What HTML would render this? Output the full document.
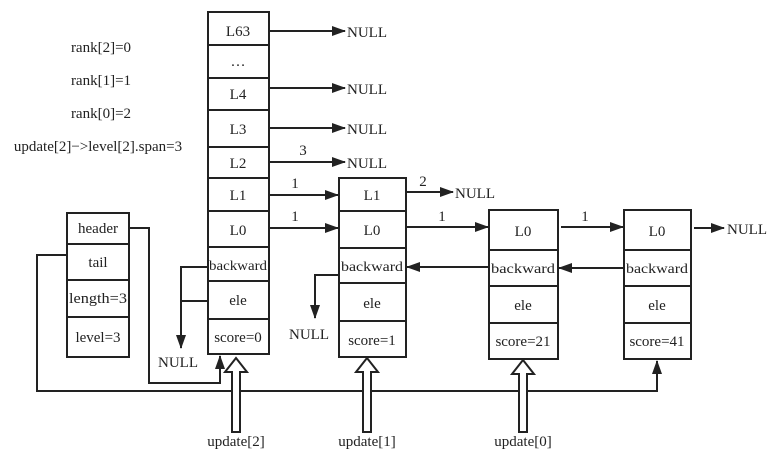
<!DOCTYPE html>
<html><head><meta charset="utf-8"><style>
html,body{margin:0;padding:0;background:#fff;}
svg{display:block;}
text{font-family:"Liberation Serif",serif;font-size:15px;fill:#222;}
</style></head><body>
<svg width="779" height="465" viewBox="0 0 779 465" xmlns="http://www.w3.org/2000/svg">
<defs>
<marker id="a" markerWidth="14" markerHeight="10" refX="13" refY="5" orient="auto" markerUnits="userSpaceOnUse">
<path d="M0,0 L14,5 L0,10 Z" fill="#222"/></marker>
</defs>
<g stroke="#222" stroke-width="2" fill="none">
<!-- main column -->
<rect x="208" y="12" width="61" height="342"/>
<path d="M208,45H269M208,78H269M208,110H269M208,147H269M208,178H269M208,211H269M208,247H269M208,281H269M208,319H269"/>
<!-- node1 -->
<rect x="339" y="178" width="67" height="179"/>
<path d="M339,211H406M339,248H406M339,283H406M339,321H406"/>
<!-- node2 -->
<rect x="489" y="210" width="69" height="149"/>
<path d="M489,250H558M489,286H558M489,323H558"/>
<!-- node3 -->
<rect x="624" y="210" width="67" height="149"/>
<path d="M624,250H691M624,286H691M624,323H691"/>
<!-- header box -->
<rect x="67" y="213" width="62" height="144"/>
<path d="M67,244H129M67,280H129M67,317H129"/>
</g>
<g stroke="#222" stroke-width="2" fill="none">
<line x1="269" y1="31" x2="345" y2="31" marker-end="url(#a)"/>
<line x1="269" y1="88" x2="345" y2="88" marker-end="url(#a)"/>
<line x1="269" y1="128" x2="345" y2="128" marker-end="url(#a)"/>
<line x1="269" y1="162" x2="345" y2="162" marker-end="url(#a)"/>
<line x1="269" y1="195" x2="338" y2="195" marker-end="url(#a)"/>
<line x1="269" y1="228" x2="338" y2="228" marker-end="url(#a)"/>
<line x1="406" y1="192" x2="453" y2="192" marker-end="url(#a)"/>
<line x1="406" y1="227" x2="488" y2="227" marker-end="url(#a)"/>
<line x1="561" y1="227" x2="623" y2="227" marker-end="url(#a)"/>
<line x1="694" y1="228" x2="724" y2="228" marker-end="url(#a)"/>
<line x1="489" y1="267" x2="407" y2="267" marker-end="url(#a)"/>
<line x1="624" y1="268" x2="559" y2="268" marker-end="url(#a)"/>
<polyline points="208,267 181,267 181,348" marker-end="url(#a)"/>
<line x1="181" y1="301" x2="208" y2="301"/>
<polyline points="339,275 315,275 315,318" marker-end="url(#a)"/>
<polyline points="129,228 149,228 149,383 220,383 220,356" marker-end="url(#a)"/>
<polyline points="67,255 37,255 37,391 657,391 657,361" marker-end="url(#a)"/>
</g>
<g stroke="#222" stroke-width="2" fill="#fff">
<path d="M232,432 V372 H225 L236,358 L247,372 H240 V432 Z"/>
<path d="M363,432 V372 H356 L367,358 L378,372 H371 V432 Z"/>
<path d="M519,432 V374 H512 L523,360 L534,374 H527 V432 Z"/>
</g>
<g text-anchor="middle">
<text x="238" y="36">L63</text>
<text x="238" y="66">…</text>
<text x="238" y="99">L4</text>
<text x="238" y="134">L3</text>
<text x="238" y="168">L2</text>
<text x="238" y="200">L1</text>
<text x="238" y="235">L0</text>
<text x="238" y="270" style="font-size:14px" textLength="58" lengthAdjust="spacingAndGlyphs">backward</text>
<text x="238" y="305">ele</text>
<text x="238" y="342">score=0</text>
<text x="372" y="200">L1</text>
<text x="372" y="235">L0</text>
<text x="372" y="271" style="font-size:14px" textLength="62" lengthAdjust="spacingAndGlyphs">backward</text>
<text x="372" y="308">ele</text>
<text x="372" y="345">score=1</text>
<text x="523" y="236">L0</text>
<text x="523" y="273" style="font-size:14px" textLength="64" lengthAdjust="spacingAndGlyphs">backward</text>
<text x="523" y="310">ele</text>
<text x="523" y="346">score=21</text>
<text x="657" y="236">L0</text>
<text x="657" y="273" style="font-size:14px" textLength="62" lengthAdjust="spacingAndGlyphs">backward</text>
<text x="657" y="310">ele</text>
<text x="657" y="346">score=41</text>
<text x="98" y="233">header</text>
<text x="98" y="267">tail</text>
<text x="98" y="303" textLength="58" lengthAdjust="spacingAndGlyphs">length=3</text>
<text x="98" y="342">level=3</text>
<text x="236" y="446">update[2]</text>
<text x="367" y="446">update[1]</text>
<text x="523" y="446">update[0]</text>
<text x="101" y="52">rank[2]=0</text>
<text x="101" y="85">rank[1]=1</text>
<text x="101" y="118">rank[0]=2</text>
<text x="98" y="151">update[2]−&gt;level[2].span=3</text>
<text x="303" y="155">3</text>
<text x="295" y="188">1</text>
<text x="295" y="221">1</text>
<text x="423" y="186">2</text>
<text x="442" y="221">1</text>
<text x="585" y="221">1</text>
</g>
<text x="347" y="37">NULL</text>
<text x="347" y="94">NULL</text>
<text x="347" y="134">NULL</text>
<text x="347" y="168">NULL</text>
<text x="455" y="198">NULL</text>
<text x="727" y="234">NULL</text>
<text x="158" y="367">NULL</text>
<text x="289" y="339">NULL</text>
</svg>
</body></html>
